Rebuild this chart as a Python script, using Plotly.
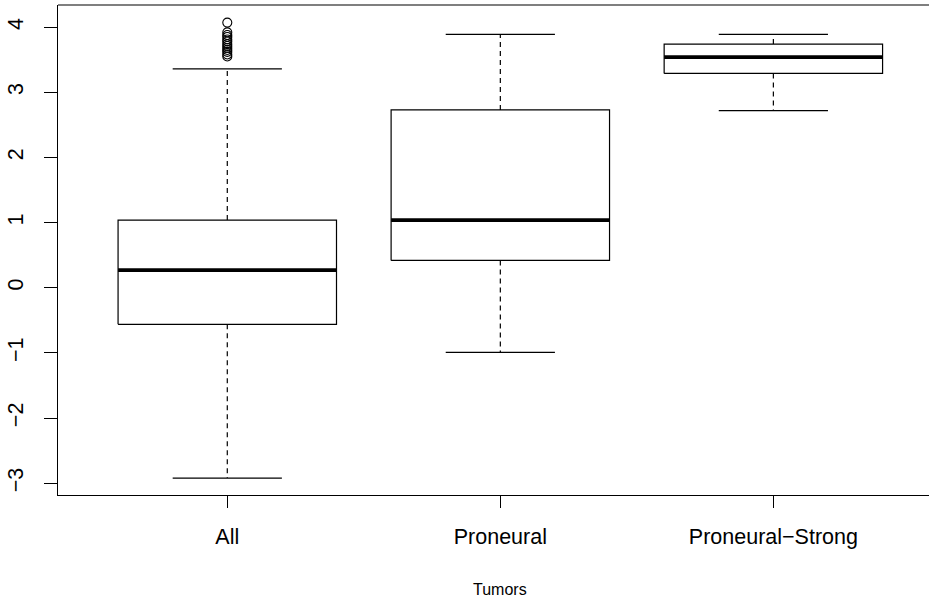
import plotly.graph_objects as go

categories = ["All", "Proneural", "Proneural\u2212Strong"]
positions = [1, 2, 3]
lower_whisker = [-2.92, -0.99, 2.72]
q1 = [-0.56, 0.42, 3.29]
median = [0.27, 1.04, 3.54]
q3 = [1.04, 2.73, 3.74]
upper_whisker = [3.36, 3.89, 3.89]
outliers_all = [4.07, 3.92, 3.88, 3.85, 3.81, 3.78, 3.74, 3.71, 3.68, 3.65, 3.62, 3.58, 3.55]
y_ticks = [-3, -2, -1, 0, 1, 2, 3, 4]
y_ticktext = ["\u22123", "\u22122", "\u22121", "0", "1", "2", "3", "4"]

BOXW = 0.8
CAPW = 0.4
FONT = "Liberation Sans, Arial, sans-serif"

fig = go.Figure()
for x, lw, a, m, b, uw in zip(positions, lower_whisker, q1, median, q3, upper_whisker):
    h = BOXW / 2
    fig.add_trace(go.Scatter(x=[x - h, x + h, x + h, x - h, x - h], y=[a, a, b, b, a],
                             mode="lines", line=dict(color="black", width=1.2), showlegend=False, hoverinfo="skip"))
    fig.add_trace(go.Scatter(x=[x, x, None, x, x], y=[b, uw, None, a, lw],
                             mode="lines", line=dict(color="black", width=1.2, dash="5px,4px"),
                             showlegend=False, hoverinfo="skip"))
    c = CAPW / 2
    fig.add_trace(go.Scatter(x=[x - c, x + c, None, x - c, x + c], y=[uw, uw, None, lw, lw],
                             mode="lines", line=dict(color="black", width=1.2), showlegend=False, hoverinfo="skip"))
    fig.add_trace(go.Scatter(x=[x - h, x + h], y=[m, m], mode="lines",
                             line=dict(color="black", width=3.8), showlegend=False, hoverinfo="skip"))

fig.add_trace(go.Scatter(x=[positions[0]] * len(outliers_all), y=outliers_all, mode="markers",
                         marker=dict(symbol="circle-open", size=9, color="black", line=dict(width=1.1)),
                         showlegend=False, hoverinfo="skip"))

fig.add_annotation(x=2, xref="x", y=-0.192, yref="paper", text="Tumors", showarrow=False,
                   font=dict(family=FONT, size=16, color="black"), yanchor="middle")

# top edge of the frame (right edge falls outside the picture)
fig.add_shape(type="line", xref="paper", yref="paper", x0=0, x1=1.02, y0=1, y1=1,
              line=dict(color="black", width=1.2), layer="above")

fig.update_layout(
    width=929, height=601,
    margin=dict(l=58, r=0, t=5, b=106, autoexpand=False),
    plot_bgcolor="white", paper_bgcolor="white",
    font=dict(family=FONT, size=21.5, color="black"),
    xaxis=dict(range=[0.38, 3.57], tickvals=positions, ticktext=categories,
               showgrid=False, zeroline=False, showline=True, mirror=False,
               linecolor="black", linewidth=1.2, ticks="outside", ticklen=12,
               tickcolor="black", tickwidth=1.2, ticklabelstandoff=10,
               tickfont=dict(size=21.5)),
    yaxis=dict(range=[-3.18, 4.34], tickvals=y_ticks, ticktext=y_ticktext,
               showgrid=False, zeroline=False, showline=True, mirror=False,
               linecolor="black", linewidth=1.2, ticks="outside", ticklen=13,
               tickcolor="black", tickwidth=1.2, tickangle=-90, ticklabelstandoff=12,
               tickfont=dict(size=21.5)),
)

fig.write_html("out.html", config={"displayModeBar": False},
               post_script="document.body.style.margin='0px';document.body.style.overflow='hidden';")
